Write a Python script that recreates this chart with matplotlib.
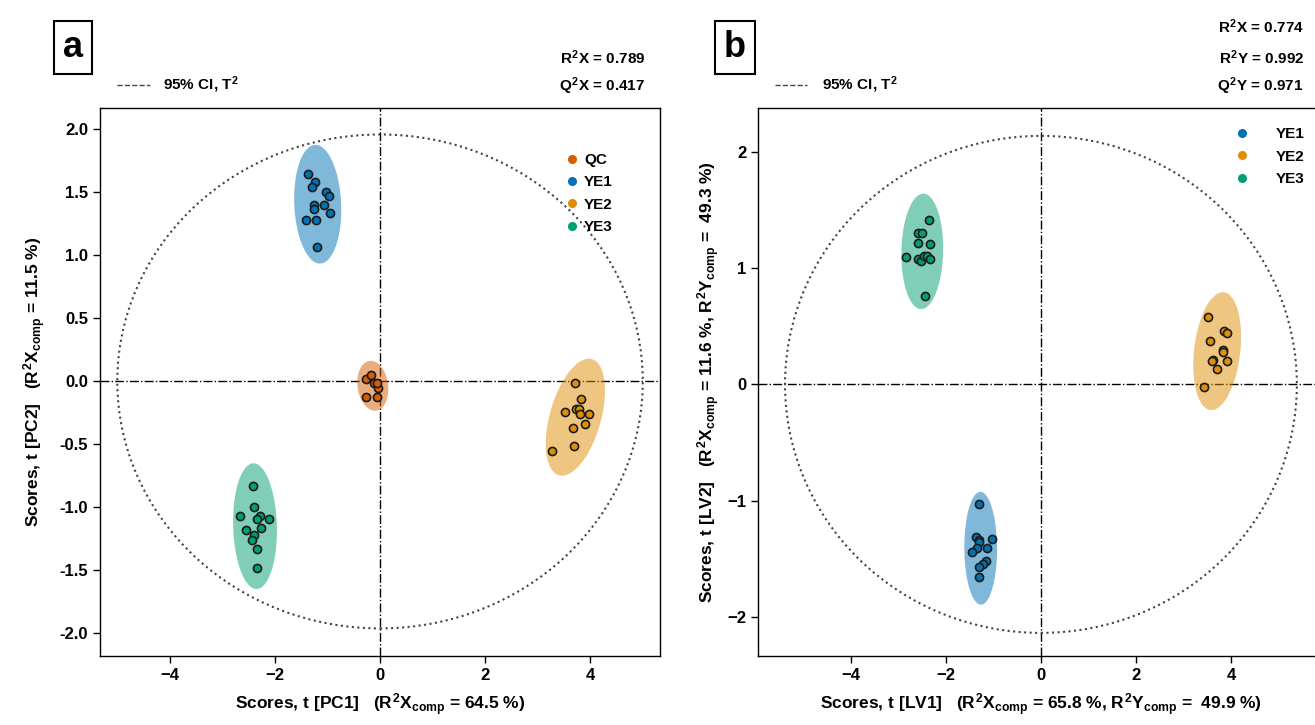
import numpy as np
import matplotlib.pyplot as plt
from matplotlib.lines import Line2D
from matplotlib.patches import Ellipse

plt.rcParams['font.family'] = ['Liberation Sans', 'DejaVu Sans']
plt.rcParams['font.weight'] = 'bold'
plt.rcParams['axes.labelweight'] = 'bold'
plt.rcParams['mathtext.fontset'] = 'custom'
plt.rcParams['mathtext.rm'] = 'Liberation Sans:bold'
plt.rcParams['mathtext.it'] = 'Liberation Sans:bold'
plt.rcParams['mathtext.bf'] = 'Liberation Sans:bold'

# PCA scores (panel a)
pca_qc_t1 = [-0.27, -0.17, -0.11, -0.03, -0.06, -0.26, -0.06]
pca_qc_t2 = [0.02, 0.05, -0.01, -0.05, -0.01, -0.12, -0.12]
pca_ye1_t1 = [-1.38, -1.24, -1.29, -1.02, -0.98, -1.25, -1.25, -1.07, -0.95, -1.40, -1.21, -1.19]
pca_ye1_t2 = [1.65, 1.58, 1.54, 1.50, 1.47, 1.40, 1.37, 1.40, 1.34, 1.28, 1.28, 1.07]
pca_ye2_t1 = [3.71, 3.82, 3.52, 3.73, 3.79, 3.80, 3.97, 3.90, 3.67, 3.28, 3.70]
pca_ye2_t2 = [-0.01, -0.14, -0.24, -0.22, -0.22, -0.26, -0.26, -0.34, -0.37, -0.55, -0.51]
pca_ye3_t1 = [-2.42, -2.39, -2.66, -2.29, -2.34, -2.11, -2.27, -2.56, -2.39, -2.43, -2.34, -2.35]
pca_ye3_t2 = [-0.83, -1.00, -1.07, -1.07, -1.09, -1.09, -1.16, -1.18, -1.22, -1.26, -1.33, -1.48]

# PLS-DA scores (panel b)
pls_ye1_t1 = [-1.30, -1.37, -1.30, -1.30, -1.03, -1.35, -1.45, -1.13, -1.16, -1.23, -1.30, -1.31]
pls_ye1_t2 = [-1.03, -1.31, -1.34, -1.36, -1.33, -1.41, -1.44, -1.41, -1.52, -1.55, -1.57, -1.66]
pls_ye2_t1 = [3.52, 3.85, 3.91, 3.56, 3.84, 3.84, 3.63, 3.61, 3.91, 3.71, 3.44]
pls_ye2_t2 = [0.58, 0.46, 0.44, 0.37, 0.30, 0.28, 0.21, 0.20, 0.20, 0.13, -0.02]
pls_ye3_t1 = [-2.36, -2.60, -2.51, -2.60, -2.33, -2.84, -2.60, -2.52, -2.46, -2.39, -2.34, -2.45]
pls_ye3_t2 = [1.42, 1.30, 1.30, 1.22, 1.21, 1.10, 1.08, 1.06, 1.11, 1.11, 1.08, 0.76]

# Hotelling T2 95% limits (semi-axes)
pca_t2_lim = (5.0, 1.96)
pls_t2_lim = (5.39, 2.14)

pca_stats = ['$R^2X$ = 0.789', '$Q^2X$ = 0.417']
pls_stats = ['$R^2X$ = 0.774', '$R^2Y$ = 0.992', '$Q^2Y$ = 0.971']

c_qc = '#D55E00'
c_ye1 = '#0173B2'
c_ye2 = '#DE8F05'
c_ye3 = '#029E73'


def group_ellipse(ax, x, y, color, n_std=3.0):
    x = np.asarray(x)
    y = np.asarray(y)
    vals, vecs = np.linalg.eigh(np.cov(x, y))
    th = np.linspace(0, 2 * np.pi, 200)
    circ = np.vstack([np.cos(th), np.sin(th)])
    pts = vecs @ (np.sqrt(vals)[:, None] * circ) * n_std
    ax.fill(x.mean() + pts[0], y.mean() + pts[1], color=color, alpha=0.5, lw=0, zorder=2)


def score_plot(ax, groups, t2_lim):
    ax.axhline(0, color='black', ls='-.', lw=1, zorder=1)
    ax.axvline(0, color='black', ls='-.', lw=1, zorder=1)
    ax.add_patch(Ellipse((0, 0), 2 * t2_lim[0], 2 * t2_lim[1], fill=False,
                         ls=':', lw=1.5, color='#444444', zorder=1))
    handles = []
    for name, x, y, col in groups:
        group_ellipse(ax, x, y, col)
        ax.scatter(x, y, s=34, c=col, edgecolors='#1a1a1a', linewidths=1.2, zorder=3)
        handles.append(Line2D([], [], ls='', marker='o', color=col, markersize=5.5, label=name))
    ax.tick_params(labelsize=12, direction='out', length=5, width=1)
    for s in ax.spines.values():
        s.set_linewidth(1)
    return handles


fig = plt.figure(figsize=(13.15, 7.25), dpi=100)
ax1 = fig.add_axes([0.076, 0.095, 0.426, 0.756])
ax2 = fig.add_axes([0.5764, 0.095, 0.4304, 0.756])

h1 = score_plot(ax1, [('QC', pca_qc_t1, pca_qc_t2, c_qc),
                      ('YE1', pca_ye1_t1, pca_ye1_t2, c_ye1),
                      ('YE2', pca_ye2_t1, pca_ye2_t2, c_ye2),
                      ('YE3', pca_ye3_t1, pca_ye3_t2, c_ye3)], pca_t2_lim)
ax1.set_xlim(-5.33, 5.33)
ax1.set_ylim(-2.18, 2.17)
ax1.set_xticks([-4, -2, 0, 2, 4])
ax1.set_yticks(np.arange(-2, 2.01, 0.5))
ax1.set_yticklabels([f'{v:.1f}' for v in np.arange(-2, 2.01, 0.5)])
ax1.legend(handles=h1, loc='upper right', frameon=False, fontsize=11, handlelength=1,
           handletextpad=0.3, labelspacing=0.55, bbox_to_anchor=(0.94, 0.943))
ax1.set_xlabel(r'Scores, t [PC1]   ($R^2X_{comp}$ = 64.5 %)', fontsize=12.5, labelpad=6)
ax1.set_ylabel(r'Scores, t [PC2]   ($R^2X_{comp}$ = 11.5 %)', fontsize=12.5, labelpad=8)

h2 = score_plot(ax2, [('YE1', pls_ye1_t1, pls_ye1_t2, c_ye1),
                      ('YE2', pls_ye2_t1, pls_ye2_t2, c_ye2),
                      ('YE3', pls_ye3_t1, pls_ye3_t2, c_ye3)], pls_t2_lim)
ax2.set_xlim(-5.96, 5.96)
ax2.set_ylim(-2.34, 2.38)
ax2.set_xticks([-4, -2, 0, 2, 4])
ax2.set_yticks([-2, -1, 0, 1, 2])
ax2.legend(handles=h2, loc='upper right', frameon=False, fontsize=11,
           handletextpad=1.2, labelspacing=0.55, bbox_to_anchor=(0.99, 0.99))
ax2.set_xlabel(r'Scores, t [LV1]   ($R^2X_{comp}$ = 65.8 %, $R^2Y_{comp}$ =  49.9 %)',
               fontsize=12.5, labelpad=6)
ax2.set_ylabel(r'Scores, t [LV2]   ($R^2X_{comp}$ = 11.6 %, $R^2Y_{comp}$ =  49.3 %)',
               fontsize=12.5, labelpad=4)

# panel letters
for xc, letter in [(0.0555, 'a'), (0.559, 'b')]:
    fig.text(xc, 0.935, letter, fontsize=26, ha='center', va='center',
             bbox=dict(boxstyle='square,pad=0.25', fc='white', ec='black', lw=1.5))

# T2 key
for x0, x1, xt in [(0.089, 0.114, 0.124), (0.589, 0.614, 0.625)]:
    fig.add_artist(Line2D([x0, x1], [0.883, 0.883], transform=fig.transFigure,
                          ls='--', lw=1, color='#444444'))
    fig.text(xt, 0.883, r'95% CI, $T^2$', fontsize=11, va='center')

# model statistics
for i, s in enumerate(pca_stats):
    fig.text(0.4905, [0.921, 0.881][i], s, fontsize=11, ha='right', va='center')
for i, s in enumerate(pls_stats):
    fig.text(0.9916, [0.963, 0.921, 0.881][i], s, fontsize=11, ha='right', va='center')

fig.savefig('out.png', dpi=100)
